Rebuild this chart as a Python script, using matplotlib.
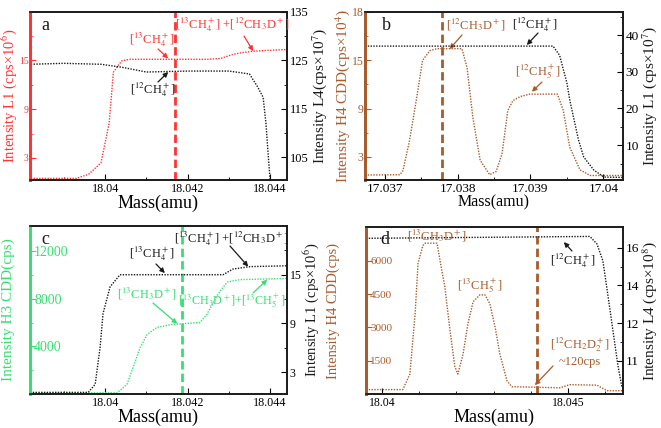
import numpy as np
import matplotlib
matplotlib.use("Agg")
import matplotlib.pyplot as plt
from matplotlib.ticker import FixedLocator, FixedFormatter

plt.rcParams["font.family"] = "Liberation Serif"
plt.rcParams["mathtext.fontset"] = "stix"

RED = "#ff3333"
BROWN = "#a85c2c"
GREEN = "#33e070"
BLACK = "#1a1a1a"

# ---- panel a : 13CH4 (L1) and 12CH4 (L4) around 18.04
a_red_mass = [18.0382, 18.0393, 18.0396, 18.0399, 18.0401, 18.0402, 18.0404, 18.0406,
              18.0415, 18.0425, 18.0428, 18.0431, 18.0433, 18.0436, 18.0440, 18.04441]
a_red_val = [0.5, 0.5, 1.0, 2.4, 7.3, 13.5, 14.9, 15.1,
             15.1, 15.1, 15.2, 15.7, 15.9, 16.1, 16.2, 16.3]
a_blk_mass = [18.0382, 18.0390, 18.0399, 18.0404, 18.0410, 18.0420, 18.0430, 18.0435,
              18.0437, 18.04383, 18.0439, 18.04395, 18.0440]
a_blk_val = [124.2, 124.4, 124.2, 123.6, 122.6, 122.8, 122.8, 122.2,
             119.5, 117.4, 112.0, 106.0, 100.3]

# ---- panel b : 12CH3D / 12CH5 (H4 CDD) and 12CH4 (L1) around 17.038
b_brn_mass = [17.03673, 17.03721, 17.03725, 17.03734, 17.03744, 17.03752, 17.03762, 17.03772,
              17.03806, 17.03813, 17.03821, 17.03831, 17.03844, 17.03853, 17.03861, 17.03869,
              17.03876, 17.03886, 17.03899, 17.03937, 17.03945, 17.03954, 17.03968, 17.03982,
              17.04027]
b_brn_val = [0.76, 0.8, 1.3, 5.0, 10.4, 15.0, 16.2, 16.45,
             16.45, 14.1, 7.9, 2.6, 0.8, 1.2, 3.4, 8.8,
             10.0, 10.5, 10.8, 10.8, 8.8, 4.2, 1.4, 0.7,
             0.7]
b_blk_mass = [17.03673, 17.03931, 17.0394, 17.0395, 17.03954, 17.03959, 17.03966, 17.03973,
              17.03987, 17.04001, 17.04027]
b_blk_val = [37.0, 37.0, 34.5, 27.0, 22.3, 17.7, 11.4, 6.8, 3.2, 1.3, 1.2]

# ---- panel c : 13CH3D (H3 CDD) and 13CH4 (L1)
c_blk_mass = [18.03818, 18.03959, 18.03976, 18.03988, 18.03995, 18.04012, 18.04036,
              18.04286, 18.0431, 18.04352, 18.04441]
c_blk_val = [0.5, 0.5, 1.5, 6.1, 10.2, 13.5, 15.0, 15.0, 15.7, 16.0, 16.1]
c_grn_mass = [18.03818, 18.04029, 18.04053, 18.04068, 18.04085, 18.04102, 18.04126, 18.04165,
              18.0423, 18.04247, 18.04272, 18.04296, 18.04327, 18.04441]
c_grn_val = [100, 100, 800, 2250, 3900, 5000, 5600, 5850,
             6000, 6700, 8300, 9400, 9600, 9700]

# ---- panel d : 13CH3D / 13CH5 / 12CH2D2 (H4 CDD) and 12CH4 (L4)
d_brn_mass = [18.03957, 18.04056, 18.04075, 18.04089, 18.04097, 18.0411, 18.04116, 18.04148,
              18.04161, 18.04169, 18.04183, 18.04196, 18.04204, 18.04218, 18.04231, 18.04245,
              18.04263, 18.04277, 18.0429, 18.04304, 18.04317, 18.04336, 18.04349, 18.04478,
              18.04505, 18.04578, 18.04605, 18.04648]
d_brn_val = [200, 200, 900, 3600, 5900, 6700, 6800, 6800,
             5550, 4830, 2850, 1230, 900, 1800, 3160, 4160,
             4470, 4470, 4070, 3030, 1800, 600, 330, 280,
             420, 400, 150, 150]
d_blk_mass = [18.03957, 18.04559, 18.04578, 18.04594, 18.04608, 18.04621, 18.04634, 18.04645]
d_blk_val = [16.5, 16.6, 16.2, 15.3, 13.4, 11.6, 9.8, 8.6]

# peak-centre marker positions
a_vline = 18.0417
b_vline = 17.03778
c_vline = 18.04187
d_vline = 18.04417

DOT = (0, (1, 1))
DASH = (0, (3, 1.5))
LW = 1.0


def fp(x, y):
    # reference pixel -> figure fraction
    return (x / 661, 1 - y / 428)


def style(ax, axr, lcol, xlim, xt, xtl, xmin, ylim, yt, ytl, ymin, rlim, rt, rtl, rmin,
          llab, rlab, sizes, inside=False, lpad=0, rpad=1, xlsize=12.5, llsize=11, rlsize=11):
    xs, ls, rs = sizes
    ax.set_xlim(*xlim)
    ax.set_ylim(*ylim)
    axr.set_ylim(*rlim)
    ax.xaxis.set_major_locator(FixedLocator(xt))
    ax.xaxis.set_major_formatter(FixedFormatter(xtl))
    ax.xaxis.set_minor_locator(FixedLocator(xmin))
    ax.yaxis.set_major_locator(FixedLocator(yt))
    ax.yaxis.set_major_formatter(FixedFormatter(ytl))
    ax.yaxis.set_minor_locator(FixedLocator(ymin))
    axr.yaxis.set_major_locator(FixedLocator(rt))
    axr.yaxis.set_major_formatter(FixedFormatter(rtl))
    axr.yaxis.set_minor_locator(FixedLocator(rmin))
    for a in (ax, axr):
        for s in a.spines.values():
            s.set_linewidth(1.2)
            s.set_color(BLACK)
        a.tick_params(which="both", direction="in", pad=2)
        a.tick_params(which="major", length=4)
        a.tick_params(which="minor", length=2.5)
    ax.tick_params(axis="x", labelsize=xs, top=False)
    ax.tick_params(axis="y", labelsize=ls, pad=1)
    axr.tick_params(axis="y", labelsize=rs)
    axr.spines["left"].set_color(lcol)
    axr.spines["left"].set_linewidth(2)
    ax.spines["left"].set_color(lcol)
    ax.spines["left"].set_linewidth(2)
    ax.tick_params(axis="y", which="both", colors=lcol)
    if inside:
        # left tick labels sit just inside the frame
        ax.tick_params(axis="y", pad=-3)
        for t in ax.get_yticklabels():
            t.set_horizontalalignment("left")
    ax.set_ylabel(llab, color=lcol, fontsize=llsize, labelpad=lpad)
    axr.set_ylabel(rlab, color=BLACK, fontsize=rlsize, labelpad=rpad)
    ax.set_xlabel("Mass(amu)", fontsize=xlsize, labelpad=0)


def label(x, y, s, c, size=9):
    fig.text(*fp(x, y), s, ha="center", va="center", color=c, fontsize=size)


def arrow(ax, tail, head, c):
    ax.annotate("", xy=head, xycoords="data", xytext=fp(*tail), textcoords="figure fraction",
                arrowprops=dict(arrowstyle="-|>", color=c, lw=0.9, mutation_scale=7,
                                shrinkA=0, shrinkB=0))


CH4_13 = r"[$^{13}$CH$_4^+$]"
CH4_12 = r"[$^{12}$CH$_4^+$]"
CH3D_12 = r"[$^{12}$CH$_3$D$^+$]"
CH3D_13 = r"[$^{13}$CH$_3$D$^+$]"
CH5_12 = r"[$^{12}$CH$_5^+$]"
CH5_13 = r"[$^{13}$CH$_5^+$]"
CH2D2_12 = r"[$^{12}$CH$_2$D$_2^+$]"

fig = plt.figure(figsize=(6.61, 4.28), dpi=100)

# ---------------- a
ax = fig.add_axes([0.0454, 0.5794, 0.3888, 0.3926])
axr = ax.twinx()
ax.plot(a_red_mass, a_red_val, color=RED, lw=LW, ls=DOT)
axr.plot(a_blk_mass, a_blk_val, color=BLACK, lw=LW, ls=DOT)
ax.axvline(a_vline, color=RED, lw=2, ls=DASH)
style(ax, axr, RED, (18.03818, 18.04441), [18.04, 18.042, 18.044], ["18.04", "18.042", "18.044"],
      [18.039, 18.041, 18.043], (0.3, 20.9), [3, 9, 15], ["3", "9", "15"], [6, 12, 18],
      (100.3, 135), [105, 115, 125, 135], ["105", "115", "125", "135"], [110, 120, 130],
      r"Intensity L1 (cps×10$^6$)", r"Intensity L4(cps×10$^7$)", (8.7, 7, 9),
      xlsize=13, llsize=10.5)
label(45, 25, "a", BLACK, 13)
label(152, 40, CH4_13, RED)
arrow(ax, (158, 49), (18.04153, 15.2), RED)
label(232, 25, CH4_13 + " +" + CH3D_12, RED)
arrow(ax, (244, 36), (18.04359, 16.1), RED)
label(153, 90, CH4_12, BLACK)
arrow(axr, (158, 82), (18.04153, 122.6), BLACK)

# ---------------- b
ax = fig.add_axes([0.5522, 0.5794, 0.3903, 0.3926])
axr = ax.twinx()
ax.plot(b_brn_mass, b_brn_val, color=BROWN, lw=LW, ls=DOT)
axr.plot(b_blk_mass, b_blk_val, color=BLACK, lw=LW, ls=DOT)
ax.axvline(b_vline, color=BROWN, lw=2, ls=DASH)
style(ax, axr, BROWN, (17.03673, 17.04027), [17.037, 17.038, 17.039, 17.04],
      ["17.037", "17.038", "17.039", "17.04"], [17.0375, 17.0385, 17.0395, 17.0405],
      (0.14, 21), [3, 9, 15, 21], ["3", "9", "15", "18"], [6, 12, 18],
      (0.5, 46.3), [10, 20, 30, 40], ["10", "20", "30", "40"], [5, 15, 25, 35, 45],
      r"Intensity H4 CDD(cps×10$^4$)", r"Intensity L1 (cps×10$^7$)", (9.5, 8.5, 9.5),
      xlsize=11.5)
label(386, 25, "b", BLACK, 13)
label(476, 25, CH3D_12, BROWN)
arrow(ax, (462, 35), (17.03789, 16.4), BROWN)
label(535, 25, CH4_12, BLACK)
arrow(axr, (538, 33), (17.03895, 37.3), BLACK)
label(538, 72, CH5_12, BROWN)
arrow(ax, (542, 82), (17.03902, 11.1), BROWN)

# ---------------- c
ax = fig.add_axes([0.0454, 0.0794, 0.3888, 0.3925])
axr = ax.twinx()
ax.plot(c_grn_mass, c_grn_val, color=GREEN, lw=LW, ls=DOT)
axr.plot(c_blk_mass, c_blk_val, color=BLACK, lw=LW, ls=DOT)
ax.axvline(c_vline, color=GREEN, lw=2, ls=DASH)
style(ax, axr, GREEN, (18.03818, 18.04441), [18.04, 18.042, 18.044], ["18.04", "18.042", "18.044"],
      [18.039, 18.041, 18.043], (0, 14100), [4000, 8000, 12000], ["4000", "8000", "12000"],
      [2000, 6000, 10000], (0.3, 21), [3, 9, 15], ["3", "9", "15"], [6, 12, 18],
      "Intensity H3 CDD(cps)", r"Intensity L1 (cps×10$^6$)", (8.7, 10, 8.5),
      inside=True, lpad=9, rpad=0, xlsize=13, rlsize=10.5)
label(45, 239, "c", BLACK, 13)
label(152, 254, CH4_13, BLACK)
arrow(axr, (156, 264), (18.04145, 15.2), BLACK)
label(231, 239, CH4_13 + " +" + CH3D_12, BLACK)
arrow(axr, (230, 246), (18.04347, 16.0), BLACK)
label(147, 294, CH3D_13, GREEN)
arrow(ax, (153, 303), (18.04175, 5900), GREEN)
label(232, 301, CH3D_13 + "+" + CH5_13, GREEN, 8.7)
arrow(ax, (253, 293), (18.04393, 9600), GREEN)

# ---------------- d
ax = fig.add_axes([0.5537, 0.0794, 0.3888, 0.3902])
axr = ax.twinx()
ax.plot(d_brn_mass, d_brn_val, color=BROWN, lw=LW, ls=DOT)
axr.plot(d_blk_mass, d_blk_val, color=BLACK, lw=LW, ls=DOT)
ax.axvline(d_vline, color=BROWN, lw=2, ls=DASH)
style(ax, axr, BROWN, (18.03957, 18.04648), [18.04, 18.045], ["18.04", "18.045"],
      [18.041, 18.042, 18.043, 18.044, 18.046], (0, 7530), [1500, 3000, 4500, 6000],
      ["1500", "3000", "4500", "6000"], [],
      (8.24, 17.1), [10, 12, 14, 16], ["11", "12", "14", "16"], [11, 13, 15],
      "Intensity H4 CDD(cps)", r"Intensity L4 (cps×10$^8$)", (8.5, 8, 9.5),
      inside=True, lpad=19, xlsize=13, llsize=10.5)
label(385, 239, "d", BLACK, 13)
label(437, 236, CH3D_13, BROWN)
label(480, 286, CH5_13, BROWN)
label(573, 261, CH4_12, BLACK)
arrow(axr, (572, 251), (18.04489, 16.3), BLACK)
label(580, 345, CH2D2_12, BROWN)
label(580, 362, "~120cps", BROWN)
arrow(ax, (553, 366), (18.04411, 400), BROWN)

fig.savefig("out.png", dpi=100)
